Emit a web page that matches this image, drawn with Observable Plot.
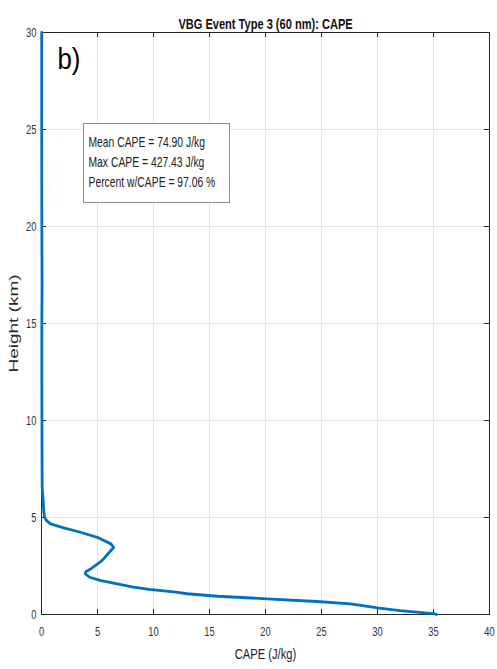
<!DOCTYPE html>
<html>
<head>
<meta charset="utf-8">
<script src="https://cdn.jsdelivr.net/npm/d3@7"></script>
<script src="https://cdn.jsdelivr.net/npm/@observablehq/plot@0.6"></script>
<style>
  body { margin: 0; background: #fff; }
  #chart { width: 497px; height: 669px; }
</style>
</head>
<body>
<div id="chart"></div>
<script>
const heightKm = [0, 0.04, 0.2, 0.34, 0.55, 0.67, 0.81, 0.94, 1.07, 1.15, 1.3, 1.41, 1.55, 1.75, 1.92, 2.1, 2.2, 2.35, 2.78, 3.3, 3.45, 3.64, 3.98, 4.24, 4.47, 4.67, 4.84, 5.0, 5.36, 5.88, 6.56, 8, 10, 12, 15, 17, 20, 25, 30];
const capeJkg  = [35.3, 35.0, 32.0, 30.0, 27.6, 24.6, 20.1, 15.7, 13.0, 12.0, 9.6, 8.2, 7.0, 5.3, 4.3, 3.9, 3.95, 4.4, 5.4, 6.2, 6.45, 6.2, 4.97, 3.48, 1.99, 0.8, 0.45, 0.27, 0.2, 0.15, 0.06, 0.05, 0.04, 0.03, 0.03, 0.05, 0.03, 0.02, 0.02];
const xTicks = [0, 5, 10, 15, 20, 25, 30, 35, 40];
const yTicks = [0, 5, 10, 15, 20, 25, 30];
const titleText = "VBG Event Type 3 (60 nm): CAPE";
const xLabel = "CAPE (J/kg)";
const yLabel = "Height (km)";
const panelLabel = "b)";
const statsLines = ["Mean CAPE = 74.90 J/kg", "Max CAPE = 427.43 J/kg", "Percent w/CAPE = 97.06 %"];

const profile = heightKm.map((h, i) => ({h, c: capeJkg[i]}));
const font = "'Liberation Sans', Arial, sans-serif";

const chart = Plot.plot({
  width: 497,
  height: 669,
  marginLeft: 41,
  marginRight: 8,
  marginTop: 32,
  marginBottom: 55,
  style: {fontFamily: font, fontSize: "13px", background: "#fff"},
  x: {domain: [0, 40], ticks: xTicks, label: null},
  y: {domain: [0, 30], ticks: yTicks, label: null},
  marks: [
    Plot.gridX(xTicks, {stroke: "#e4e4e4", strokeOpacity: 1}),
    Plot.gridY(yTicks, {stroke: "#e4e4e4", strokeOpacity: 1}),
    Plot.ruleX(xTicks, {stroke: "#262626", insetTop: 577}),
    Plot.ruleX(xTicks, {stroke: "#262626", insetBottom: 577}),
    Plot.ruleY(yTicks, {stroke: "#262626", insetRight: 443}),
    Plot.ruleY(yTicks, {stroke: "#262626", insetLeft: 443}),
    Plot.frame({stroke: "#262626", strokeWidth: 1}),
    Plot.axisX(xTicks, {anchor: "bottom", tickSize: 0, tickPadding: 12, fill: "#333", fontSize: 13, label: xLabel, labelAnchor: "center", labelOffset: 44, labelArrow: "none"}),
    Plot.axisY(yTicks, {anchor: "left", tickSize: 0, tickPadding: 5, fill: "#333", fontSize: 13, label: yLabel, labelAnchor: "center", labelOffset: 33, labelArrow: "none"}),
    Plot.line(profile, {x: "c", y: "h", stroke: "#0072BD", strokeWidth: 2.8, strokeLinejoin: "round", curve: "linear"}),
    Plot.text([titleText], {text: d => d, frameAnchor: "top", dy: -13, fontWeight: "bold", fontSize: 14, fill: "#111"}),
    Plot.text([panelLabel], {text: d => d, frameAnchor: "top-left", dx: 16, dy: 15, fontSize: 30, fill: "#000", textAnchor: "start"}),
    Plot.text([statsLines.join("\n")], {text: d => d, frameAnchor: "top-left", dx: 47, dy: 100, textAnchor: "start", lineAnchor: "top", lineHeight: 1.43, fontSize: 14, fill: "#222"})
  ]
});
document.getElementById("chart").appendChild(chart);

// condense the text horizontally (the reference's lettering is tall and narrow)
function squeeze(t, sx, sy) {
  const tr = t.getAttribute("transform") || "";
  t.setAttribute("transform", tr + ` scale(${sx},${sy})`);
}
chart.querySelectorAll("text").forEach(t => {
  const s = t.textContent;
  const label = t.closest("g") ? (t.closest("g").getAttribute("aria-label") || "") : "";
  if (s === yLabel) {
    t.style.fontSize = "19px";
    t.style.fontWeight = "normal";
    t.setAttribute("fill", "#2a2a2a");
    squeeze(t, 1, 0.7);
  } else if (s === xLabel) {
    t.style.fontSize = "14px";
    t.setAttribute("fill", "#222");
    squeeze(t, 0.8, 1);
  } else if (s === titleText) {
    squeeze(t, 0.79, 1);
  } else if (s === panelLabel) {
    squeeze(t, 0.86, 1);
  } else if (s.includes("Mean CAPE")) {
    squeeze(t, 0.74, 1);
  } else if (label.includes("tick label")) {
    squeeze(t, 0.72, 1);
  }
});

// box behind the stats text
let statsNode = null;
chart.querySelectorAll("text").forEach(t => { if (t.textContent.includes("Mean CAPE")) statsNode = t; });
if (statsNode) {
  const svgRect = chart.getBoundingClientRect();
  const r = statsNode.getBoundingClientRect();
  const bx = r.left - svgRect.left, by = r.top - svgRect.top;
  const rect = document.createElementNS("http://www.w3.org/2000/svg", "rect");
  rect.setAttribute("x", Math.round(bx - 6) + 0.5);
  rect.setAttribute("y", Math.round(by - 11) + 0.5);
  rect.setAttribute("width", Math.round(r.width + 19));
  rect.setAttribute("height", Math.round(r.height + 23));
  rect.setAttribute("fill", "#fff");
  rect.setAttribute("stroke", "#8c8c8c");
  rect.setAttribute("stroke-width", 1);
  const g = statsNode.closest("g");
  g.parentNode.insertBefore(rect, g);
}
</script>
</body>
</html>
